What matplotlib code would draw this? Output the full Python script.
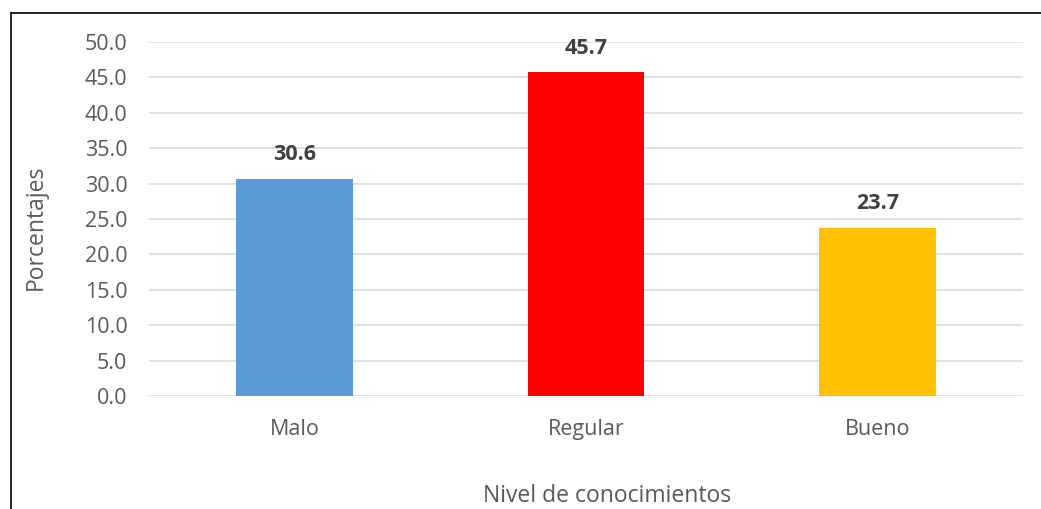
import matplotlib
matplotlib.use("Agg")
import matplotlib.pyplot as plt
from matplotlib.lines import Line2D

# knowledge level results (%)
niveles = ["Malo", "Regular", "Bueno"]
porcentajes = [30.6, 45.7, 23.7]
colores = ["#5B9BD5", "#FF0000", "#FFC000"]
yticks = [0, 5, 10, 15, 20, 25, 30, 35, 40, 45, 50]

plt.rcParams['font.family'] = ['Open Sans', 'DejaVu Sans']

fig = plt.figure(figsize=(10.41, 5.09), dpi=100)
ax = fig.add_axes([149/1041, 1 - 396/509, (1023 - 149)/1041, (396 - 42)/509])

x = range(len(niveles))
bars = ax.bar(x, porcentajes, width=0.4, color=colores, zorder=3)

for b, v in zip(bars, porcentajes):
    ax.annotate(f"{v:.1f}", (b.get_x() + b.get_width()/2, v),
                xytext=(0, 10), textcoords="offset points",
                ha="center", va="bottom", fontsize=15.5, fontweight="bold",
                color="#404040")

ax.set_xlim(-0.5, len(niveles) - 0.5)
ax.set_ylim(0, 50)
ax.set_yticks(yticks)
ax.set_yticklabels([f"{t:.1f}" for t in yticks])
ax.set_xticks(list(x))
ax.set_xticklabels(niveles)
ax.tick_params(axis="both", length=0, labelsize=15.5, labelcolor="#595959")
ax.tick_params(axis="y", pad=15.5)
ax.tick_params(axis="x", pad=16.5)
ax.grid(axis="y", color="#D9D9D9", linewidth=1.1, zorder=0)
for s in ax.spines.values():
    s.set_visible(False)

fig.text(36/1041, 1 - 227/509, "Porcentajes", rotation=90, ha="center",
         va="center", fontsize=16.5, color="#595959")
fig.text(607/1041, 1 - 496/509, "Nivel de conocimientos", ha="center",
         va="center", fontsize=16.5, color="#595959")

# outer frame (left and top edges)
fig.add_artist(Line2D([10.5/1041, 10.5/1041], [0, 1 - 12.5/509],
                      color="black", linewidth=1.2))
fig.add_artist(Line2D([10.5/1041, 1], [1 - 12.5/509, 1 - 12.5/509],
                      color="black", linewidth=1.2))

fig.savefig("out.png", dpi=100)
